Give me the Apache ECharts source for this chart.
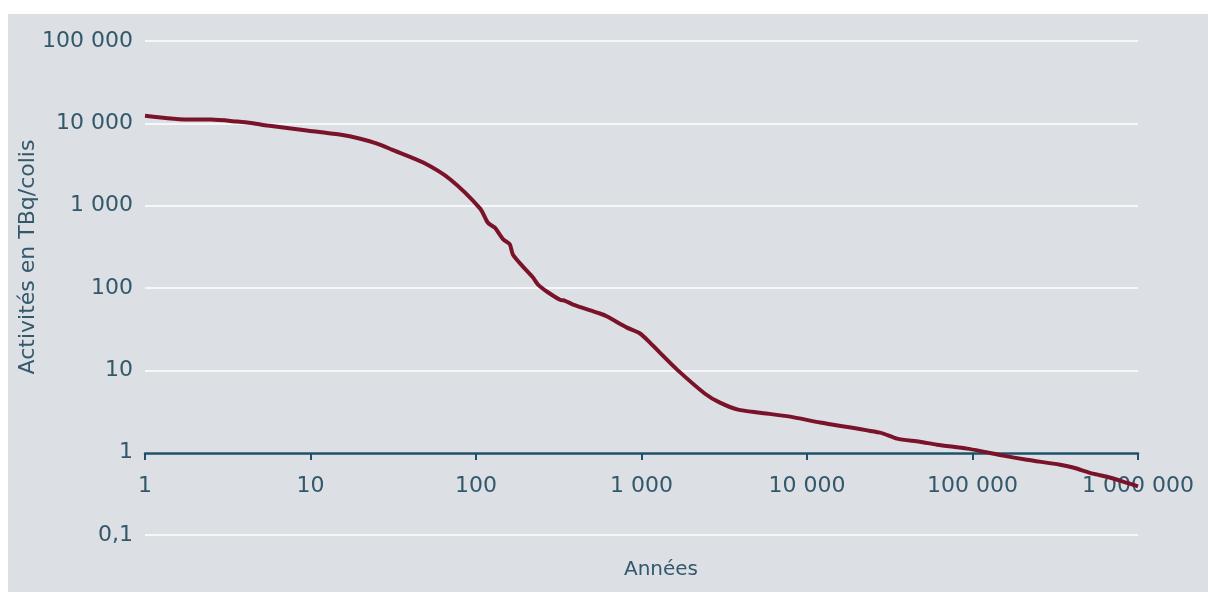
<!DOCTYPE html>
<html>
<head>
<meta charset="utf-8">
<script src="https://cdn.jsdelivr.net/npm/echarts@6/dist/echarts.min.js"></script>
<style>
  html, body { margin: 0; padding: 0; background: #ffffff; }
  #main { position: absolute; left: 8px; top: 14px; width: 1200px; height: 578px; }
</style>
</head>
<body>
<div id="main"></div>
<script>
// years (x, log) and activity in TBq/colis (y, log)
const years = [1, 1.9, 2.5, 3.6, 4.5, 5.5, 9.5, 15, 20, 25, 31, 48, 70, 106, 118, 130, 146, 160, 167,
  192, 221, 237, 269, 322, 345, 386, 560, 620, 817, 980, 1125, 1290, 1640, 2420, 2980, 3830,
  5200, 7900, 12000, 27600, 35000, 48000, 61000, 93000, 116000, 153000, 213000, 338000,
  405000, 534000, 650000, 860000, 1000000];
const activity = [12400, 11100, 11100, 10500, 10000, 9400, 8200, 7300, 6500, 5700, 4800, 3340, 2080, 920,
  620, 540, 390, 340, 255, 182, 134, 110, 90, 72, 70, 63, 49, 45, 33, 28, 21.7, 16.4, 10.2, 5.2,
  4.05, 3.33, 3.06, 2.74, 2.32, 1.75, 1.48, 1.36, 1.25, 1.12, 1.03, 0.92, 0.82, 0.715, 0.66,
  0.556, 0.51, 0.43, 0.39];

const xTickLabels = ['1', '10', '100', '1 000', '10 000', '100 000', '1 000 000'];
const yTickLabels = ['0,1', '1', '10', '100', '1 000', '10 000', '100 000'];

const labelColor = '#33586b';
const axisColor = '#1c5169';
const font = 'DejaVu Sans';

const chart = echarts.init(document.getElementById('main'));

const option = {
  backgroundColor: '#dce0e4',
  animation: false,
  textStyle: { fontFamily: font },
  grid: [
    { left: 137, right: 70, top: 27, bottom: 57 },
    { left: 137, right: 70, top: 27, bottom: 139 }
  ],
  xAxis: [
    { gridIndex: 0, type: 'log', logBase: 10, min: 1, max: 1000000, show: false },
    {
      gridIndex: 1, type: 'log', logBase: 10, min: 1, max: 1000000, interval: 1,
      axisLine: { show: true, lineStyle: { color: axisColor, width: 2.5 } },
      axisTick: { show: true, length: 7, lineStyle: { color: axisColor, width: 2 } },
      splitLine: { show: false },
      axisLabel: {
        margin: 22, fontSize: 22, color: labelColor, fontFamily: font,
        formatter: v => xTickLabels[Math.round(Math.log10(v))]
      }
    }
  ],
  yAxis: [
    {
      gridIndex: 0, type: 'log', logBase: 10, min: 0.1, max: 100000, interval: 1,
      axisLine: { show: false },
      axisTick: { show: false },
      splitLine: { show: true, lineStyle: { color: '#ffffff', width: 1.5 } },
      axisLabel: {
        margin: 12, fontSize: 22, color: labelColor, fontFamily: font,
        formatter: v => yTickLabels[Math.round(Math.log10(v)) + 1]
      }
    },
    { gridIndex: 1, type: 'value', show: false }
  ],
  graphic: [
    {
      type: 'text', x: 20, y: 243, rotation: Math.PI / 2,
      style: {
        text: 'Activités en TBq/colis', fill: labelColor, font: '22px "DejaVu Sans"',
        textAlign: 'center', textVerticalAlign: 'middle'
      }
    },
    {
      type: 'text', x: 653, y: 556,
      style: {
        text: 'Années', fill: labelColor, font: '20px "DejaVu Sans"',
        textAlign: 'center', textVerticalAlign: 'middle'
      }
    }
  ],
  series: [
    {
      type: 'line',
      xAxisIndex: 0,
      yAxisIndex: 0,
      data: years.map((x, i) => [x, activity[i]]),
      showSymbol: false,
      smooth: 0.25,
      lineStyle: { color: '#7a1329', width: 4 },
      z: 5
    }
  ]
};

chart.setOption(option);
</script>
</body>
</html>
